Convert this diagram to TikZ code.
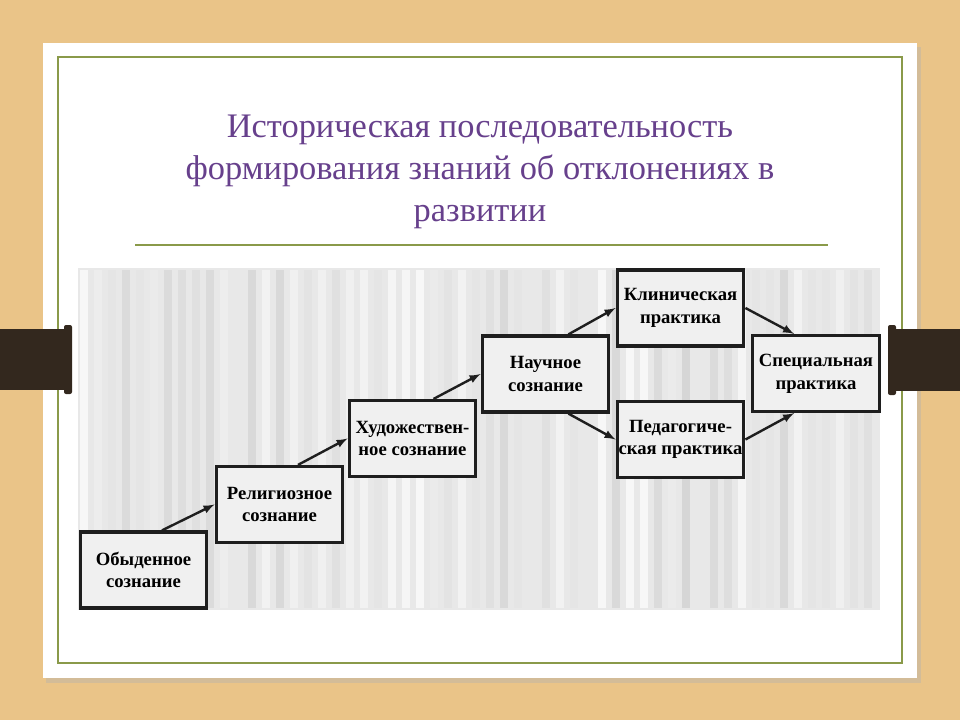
\documentclass[tikz,border=0pt]{standalone}
\usepackage{fontspec}
\setmainfont{Liberation Serif}
\definecolor{wood}{HTML}{EAC488}
\definecolor{slidegreen}{HTML}{8A9A4A}
\definecolor{titlepurple}{HTML}{67408C}
\definecolor{barbrown}{HTML}{33281E}
\definecolor{boxline}{HTML}{1E1E1E}
\begin{document}
\begin{tikzpicture}[x=0.75pt, y=-0.75pt]
\tikzset{etape/.style={draw=boxline, line width=2.4pt, fill=black!6, minimum width=95pt, minimum height=57pt, align=center, inner xsep=0pt, inner ysep=2pt, font=\fontsize{14}{17}\selectfont\bfseries},
fleche/.style={draw=boxline, line width=1.8pt, -latex}}
\useasboundingbox (0,0) rectangle (960,720);
\fill[wood] (0,0) rectangle (960,720);
\fill[black!30, opacity=0.4] (46,47) rectangle (921,683);
\fill[white] (43,43) rectangle (917,678);
\draw[slidegreen, line width=1.5pt] (58,57) rectangle (902,663);
\fill[barbrown] (0,329) rectangle (68,390);
\fill[barbrown, rounded corners=1.5pt] (64,325) rectangle (72,394);
\fill[barbrown] (892,329) rectangle (960,391);
\fill[barbrown, rounded corners=1.5pt] (888,325) rectangle (896,395);
\node[text=titlepurple, align=center, font=\fontsize{25.8}{31.5}\selectfont] (titre) at (480,172)
  {Историческая последовательность\\формирования знаний об отклонениях в\\развитии};
\draw[slidegreen, line width=1pt] (135,245) -- (828,245);
% scanned background
\fill[black!9] (78,268) rectangle (880,610);
\pgfmathsetseed{42}
\foreach \i in {0,...,56} {
  \pgfmathsetmacro{\g}{int(3+random(0,13))}
  \fill[black!\g] ({80+\i*14},270) rectangle ({88+\i*14},608);
}
\node[etape] (V1) at (143.5,570) {Обыденное\\сознание};
\node[etape] (V2) at (279.5,504.5) {Религиозное\\сознание};
\node[etape] (V3) at (412.5,438.5) {Художествен-\\ное сознание};
\node[etape] (V4) at (545.5,374) {Научное\\сознание};
\node[etape] (V5) at (680.5,308) {Клиническая\\практика};
\node[etape] (V6) at (680.5,439.5) {Педагогиче-\\ская практика};
\node[etape] (V7) at (816,373.5) {Специальная\\практика};
\draw[fleche] (V1.65) -- (V2.west);
\draw[fleche] (V2.65) -- (V3.west);
\draw[fleche] (V3.62) -- (V4.west);
\draw[fleche] (V4.60) -- (V5.west);
\draw[fleche] (V4.-60) -- (V6.west);
\draw[fleche] (V5.east) -- (V7.119);
\draw[fleche] (V6.east) -- (V7.-119);
\end{tikzpicture}
\end{document}
